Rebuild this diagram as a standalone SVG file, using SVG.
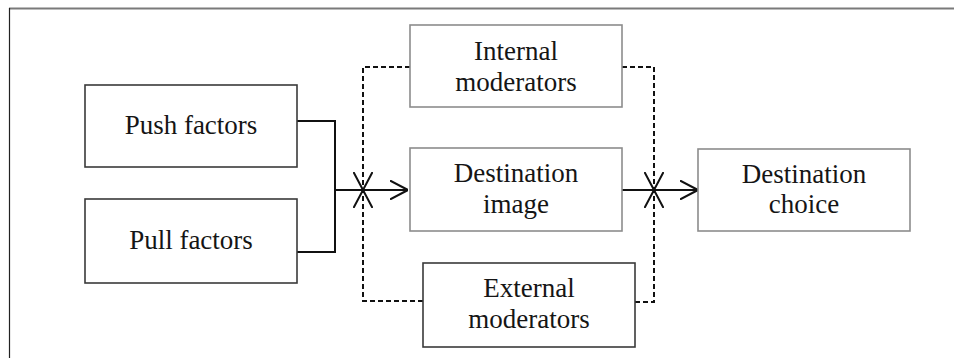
<svg xmlns="http://www.w3.org/2000/svg" width="954" height="358" viewBox="0 0 954 358">
<style>
text{font-family:"Liberation Serif","Times New Roman","DejaVu Serif",serif;font-size:27px;fill:#151515;text-anchor:middle}
.bd{fill:#fff;stroke:#3a3a3a;stroke-width:1.6}
.bl{fill:#fff;stroke:#8c8c8c;stroke-width:1.6}
.s{fill:none;stroke:#111;stroke-width:2}
.d{fill:none;stroke:#111;stroke-width:2;stroke-dasharray:5 3}
</style>
<defs>
<marker id="ah" viewBox="0 0 18 20" refX="18" refY="10" markerWidth="18" markerHeight="20" markerUnits="userSpaceOnUse" orient="auto">
<path d="M0,0.5 L18,10 L0,19.5" fill="none" stroke="#111" stroke-width="2" stroke-dasharray="none"/>
</marker>
</defs>
<rect width="954" height="358" fill="#fff"/>
<line x1="9" y1="8.5" x2="954" y2="8.5" stroke="#7a7a7a" stroke-width="2.2"/>
<line x1="9.5" y1="8" x2="9.5" y2="358" stroke="#222" stroke-width="1.2"/>
<g id="connectors">
<path class="s" d="M297,121 H335 V252 H297"/>
<path class="s" d="M336,190 H408" marker-end="url(#ah)"/>
<path class="d" d="M410,67 H363 V190" marker-end="url(#ah)"/>
<path class="d" d="M423,301 H363 V190" marker-end="url(#ah)"/>
<path class="s" d="M622,190 H698" marker-end="url(#ah)"/>
<path class="d" d="M622,67 H654 V190" marker-end="url(#ah)"/>
<path class="d" d="M635,302 H654 V190" marker-end="url(#ah)"/>
</g>
<g id="push">
<rect class="bd" x="85" y="85" width="212" height="82"/>
<text font-family="Liberation Serif, serif" x="191" y="134">Push factors</text>
</g>
<g id="pull">
<rect class="bd" x="85" y="199" width="212" height="84"/>
<text font-family="Liberation Serif, serif" x="191" y="249">Pull factors</text>
</g>
<g id="internal">
<rect class="bl" x="410" y="25" width="212" height="82"/>
<text font-family="Liberation Serif, serif" x="516" y="60">Internal</text>
<text font-family="Liberation Serif, serif" x="516" y="91">moderators</text>
</g>
<g id="image">
<rect class="bl" x="410" y="148" width="212" height="83"/>
<text font-family="Liberation Serif, serif" x="516" y="182">Destination</text>
<text font-family="Liberation Serif, serif" x="516" y="213">image</text>
</g>
<g id="external">
<rect class="bd" x="423" y="263" width="212" height="84"/>
<text font-family="Liberation Serif, serif" x="529" y="297">External</text>
<text font-family="Liberation Serif, serif" x="529" y="328">moderators</text>
</g>
<g id="choice">
<rect class="bl" x="698" y="149" width="212" height="82"/>
<text font-family="Liberation Serif, serif" x="804" y="183">Destination</text>
<text font-family="Liberation Serif, serif" x="804" y="213">choice</text>
</g>
</svg>
